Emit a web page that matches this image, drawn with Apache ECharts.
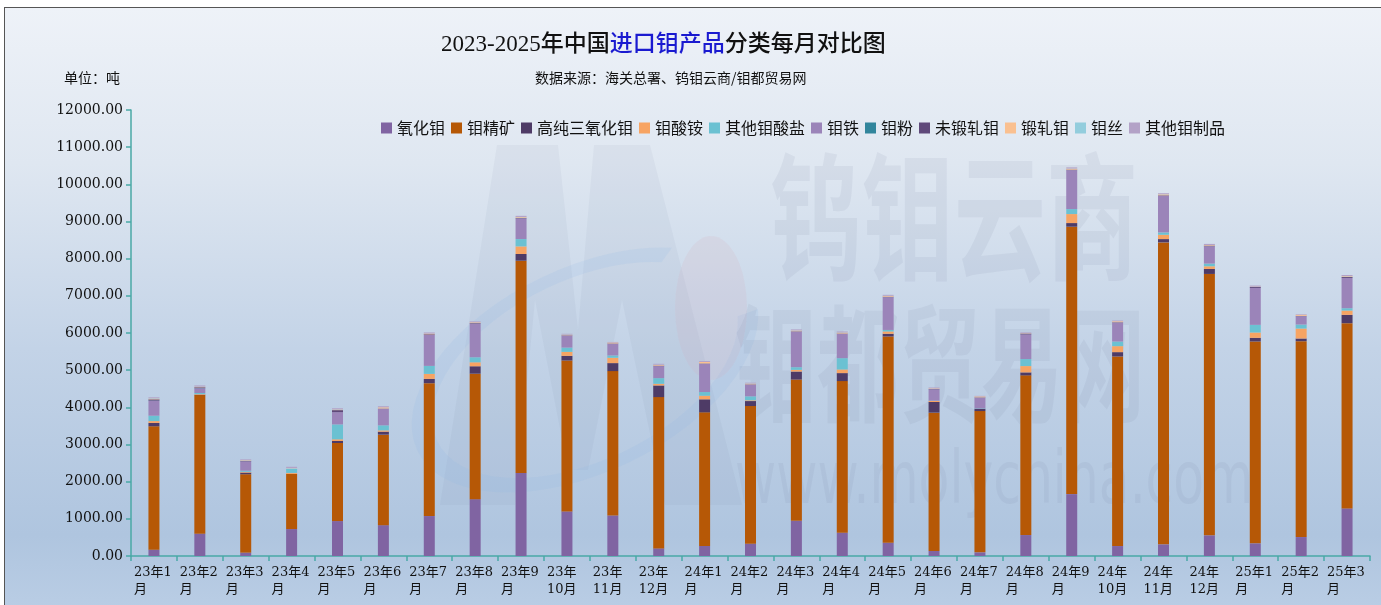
<!DOCTYPE html>
<html>
<head>
<meta charset="utf-8">
<script src="https://cdn.jsdelivr.net/npm/echarts@6/dist/echarts.min.js"></script>
<style>
  html, body { margin: 0; padding: 0; background: #fff; }
  #bg {
    position: absolute; left: 4px; top: 7px; width: 1400px; height: 620px;
    border-left: 1.5px solid #555; border-top: 1.5px solid #555;
    background: linear-gradient(#eef2f8 0%, #dfe7f1 25%, #c3d3e7 55%, #afc5df 85%, #bccfe6 100%);
  }
  #chart { position: absolute; left: 0; top: 0; width: 1381px; height: 605px; }
</style>
</head>
<body>
<div id="bg"></div>
<div id="chart"></div>
<script>
// 月份
const months = [
  "23年1月", "23年2月", "23年3月", "23年4月", "23年5月", "23年6月", "23年7月", "23年8月", "23年9月",
  "23年10月", "23年11月", "23年12月", "24年1月", "24年2月", "24年3月", "24年4月", "24年5月", "24年6月",
  "24年7月", "24年8月", "24年9月", "24年10月", "24年11月", "24年12月", "25年1月", "25年2月", "25年3月"
];
// 各品类进口量（吨）
const moOxide = [170, 600, 90, 725, 940, 830, 1075, 1530, 2235, 1200, 1090, 205, 270, 330, 948, 626, 357, 134, 98, 564, 1665, 268, 313, 555, 340, 510, 1280];
const moConcentrate = [3320, 3730, 2110, 1485, 2100, 2435, 3575, 3375, 5710, 4060, 3885, 4070, 3595, 3705, 3800, 4080, 5550, 3723, 3802, 4296, 7195, 5101, 8125, 7034, 5432, 5270, 4984];
const highPurityMoO3 = [90, 10, 45, 0, 55, 80, 115, 200, 180, 125, 215, 313, 350, 134, 215, 215, 72, 286, 63, 80, 98, 116, 89, 134, 98, 72, 224];
const ammoniumMolybdate = [50, 15, 20, 25, 45, 35, 135, 107, 205, 107, 143, 45, 98, 20, 45, 98, 63, 27, 0, 170, 242, 161, 116, 72, 143, 268, 116];
const otherMolybdates = [145, 30, 30, 110, 400, 135, 215, 135, 197, 115, 63, 152, 98, 107, 72, 304, 40, 10, 10, 188, 134, 125, 63, 72, 206, 107, 63];
const ferroMo = [400, 125, 250, 0, 330, 450, 830, 905, 555, 322, 313, 322, 760, 313, 957, 653, 880, 304, 286, 662, 1047, 510, 984, 465, 993, 224, 814];
const moPowder = [5, 5, 0, 0, 0, 0, 0, 0, 0, 0, 0, 0, 0, 0, 0, 0, 0, 0, 0, 0, 0, 0, 0, 0, 0, 0, 0];
const unwroughtMo = [35, 25, 15, 0, 55, 5, 20, 15, 15, 10, 10, 15, 10, 10, 10, 10, 15, 10, 10, 25, 15, 10, 15, 20, 25, 10, 25];
const wroughtMo = [20, 15, 15, 10, 15, 30, 20, 20, 20, 15, 25, 20, 40, 20, 20, 25, 20, 15, 25, 10, 25, 25, 25, 15, 10, 30, 20];
const moWire = [10, 5, 5, 10, 5, 0, 0, 0, 5, 5, 0, 5, 0, 5, 5, 5, 5, 0, 0, 0, 5, 0, 5, 0, 0, 0, 5];
const otherMoProducts = [25, 30, 20, 35, 30, 30, 30, 25, 30, 20, 15, 25, 25, 20, 25, 25, 25, 25, 15, 20, 30, 20, 25, 30, 30, 15, 30];

const yTicks = { min: 0, max: 12000, interval: 1000 };

const seriesList = [
  { name: "氧化钼", data: moOxide, color: "#8064A2" },
  { name: "钼精矿", data: moConcentrate, color: "#B65806" },
  { name: "高纯三氧化钼", data: highPurityMoO3, color: "#4E3B66" },
  { name: "钼酸铵", data: ammoniumMolybdate, color: "#F7A463" },
  { name: "其他钼酸盐", data: otherMolybdates, color: "#6BC1D2" },
  { name: "钼铁", data: ferroMo, color: "#9B84B9" },
  { name: "钼粉", data: moPowder, color: "#31859C" },
  { name: "未锻轧钼", data: unwroughtMo, color: "#5F497A" },
  { name: "锻轧钼", data: wroughtMo, color: "#FAC090" },
  { name: "钼丝", data: moWire, color: "#93CDDD" },
  { name: "其他钼制品", data: otherMoProducts, color: "#B3A2C7" }
];

const serif = "'DejaVu Serif', 'Noto Sans CJK SC', serif";
const wm = "rgba(120,130,155,0.10)";

var myChart = echarts.init(document.getElementById("chart"));
var option = {
  backgroundColor: "transparent",
  animation: false,
  color: seriesList.map(s => s.color),
  title: {
    text: "{a|2023-2025年中国}{b|进口钼产品}{a|分类每月对比图}",
    left: 436,
    top: 28,
    textStyle: {
      rich: {
        a: { fontSize: 23, color: "#111", fontFamily: "'Liberation Serif', 'Noto Sans CJK SC', serif", fontWeight: 500 },
        b: { fontSize: 23, color: "#1a1ad0", fontFamily: "'Liberation Serif', 'Noto Sans CJK SC', serif", fontWeight: 500 }
      }
    }
  },
  graphic: [
    // 水印
    {
      type: "polygon", z: 0, silent: true,
      shape: { points: [[440, 505], [497, 145], [558, 145], [578, 330], [594, 145], [650, 145], [742, 505], [665, 505], [622, 300], [588, 470], [568, 470], [535, 300], [515, 505]] },
      style: { fill: "rgba(120,130,155,0.07)" }
    },
    {
      type: "arc", z: 0, silent: true, x: 585, y: 370, scaleY: 0.55, rotation: 0.45,
      shape: { cx: 0, cy: 0, r: 175, startAngle: 0.2, endAngle: Math.PI * 1.75 },
      style: { stroke: "rgba(140,180,225,0.15)", lineWidth: 22, fill: null }
    },
    {
      type: "circle", z: 0, silent: true, x: 711, y: 308, scaleX: 0.5,
      shape: { cx: 0, cy: 0, r: 72 },
      style: { fill: "rgba(215,170,180,0.15)" }
    },
    {
      type: "text", z: 0, silent: true, x: 770, y: 148, scaleY: 1.5,
      style: { text: "钨钼云商", fontSize: 92, fontWeight: "bold", fontFamily: "'Noto Sans CJK SC'", fill: wm }
    },
    {
      type: "text", z: 0, silent: true, x: 735, y: 300, scaleY: 1.55,
      style: { text: "钼都贸易网", fontSize: 82, fontWeight: "bold", fontFamily: "'Noto Sans CJK SC'", fill: wm }
    },
    {
      type: "text", z: 0, silent: true, x: 735, y: 448, scaleY: 1.3,
      style: { text: "www.molychina.com", fontSize: 56, fontFamily: "'DejaVu Sans Condensed', 'DejaVu Sans'", fill: wm }
    },
    {
      type: "text", left: 64, top: 71,
      style: { text: "单位：吨", fontSize: 14, fill: "#111", fontFamily: "'Noto Sans CJK SC'" }
    },
    {
      type: "text", left: 535, top: 71,
      style: { text: "数据来源：海关总署、钨钼云商/钼都贸易网", fontSize: 14, fill: "#111", fontFamily: "'Noto Sans CJK SC'" }
    }
  ],
  legend: {
    left: 376,
    top: 115,
    icon: "rect",
    itemWidth: 11,
    itemHeight: 11,
    itemGap: 6,
    textStyle: { fontSize: 16, color: "#111", fontFamily: "'Noto Sans CJK SC'", padding: [0, 0, 0, 0] },
    data: seriesList.map(s => s.name)
  },
  grid: { left: 131, right: 11, top: 110, bottom: 49 },
  xAxis: {
    type: "category",
    data: months,
    axisLine: { lineStyle: { color: "#4aa9a6", width: 1.5 } },
    axisTick: { show: true, length: 5, lineStyle: { color: "#4aa9a6", width: 1.5 } },
    axisLabel: {
      interval: 0,
      margin: 8,
      formatter: function (name) {
        const m = name.slice(3);
        if (m.length === 2) return "{a|" + name.slice(0, 4) + "}\n{a|月}";
        return "{a|" + name.slice(0, 3) + "}\n{a|" + m + "}";
      },
      rich: {
        a: { width: 40, align: "left", fontSize: 13, lineHeight: 17, color: "#111", fontFamily: serif }
      }
    }
  },
  yAxis: {
    type: "value",
    min: yTicks.min,
    max: yTicks.max,
    interval: yTicks.interval,
    splitLine: { show: false },
    axisLine: { show: true, lineStyle: { color: "#4aa9a6", width: 1.5 } },
    axisTick: { show: true, length: 5, lineStyle: { color: "#4aa9a6", width: 1.5 } },
    axisLabel: {
      margin: 8,
      fontSize: 14,
      color: "#111",
      fontFamily: serif,
      formatter: v => v.toFixed(2)
    }
  },
  series: seriesList.map(s => ({
    name: s.name,
    type: "bar",
    stack: "total",
    barWidth: 11,
    data: s.data,
    itemStyle: { color: s.color }
  }))
};
myChart.setOption(option);
</script>
</body>
</html>
